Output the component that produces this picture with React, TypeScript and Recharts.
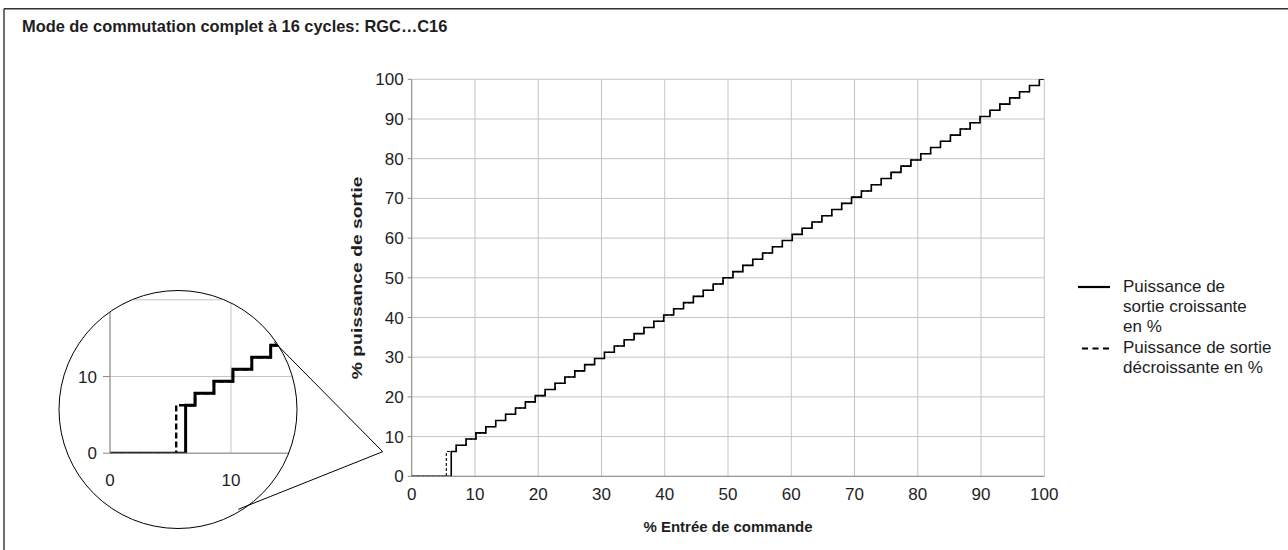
import React from 'react';
import { LineChart, Line, XAxis, YAxis, CartesianGrid } from 'recharts';

const titleText = 'Mode de commutation complet à 16 cycles: RGC…C16';
const xAxisTitle = '% Entrée de commande';
const yAxisTitle = '% puissance de sortie';

const xTicks = [0, 10, 20, 30, 40, 50, 60, 70, 80, 90, 100];
const yTicks = [0, 10, 20, 30, 40, 50, 60, 70, 80, 90, 100];
const insetXTicks = [0, 10];
const insetYTicks = [0, 10, 20];

// % input where each output level begins (increasing control input)
const increasingInput = [
  0, 6.25, 7.03, 8.59, 10.16, 11.72, 13.28, 14.84, 16.41, 17.97, 19.53, 21.09, 22.66,
  24.22, 25.78, 27.34, 28.91, 30.47, 32.03, 33.59, 35.16, 36.72, 38.28, 39.84, 41.41,
  42.97, 44.53, 46.09, 47.66, 49.22, 50.78, 52.34, 53.91, 55.47, 57.03, 58.59, 60.16,
  61.72, 63.28, 64.84, 66.41, 67.97, 69.53, 71.09, 72.66, 74.22, 75.78, 77.34, 78.91,
  80.47, 82.03, 83.59, 85.16, 86.72, 88.28, 89.84, 91.41, 92.97, 94.53, 96.09, 97.66,
  99.22, 100,
];

// % input where each output level begins (decreasing control input)
const decreasingInput = [
  0, 5.47, 7.03, 8.59, 10.16, 11.72, 13.28, 14.84, 16.41, 17.97, 19.53, 21.09, 22.66,
  24.22, 25.78, 27.34, 28.91, 30.47, 32.03, 33.59, 35.16, 36.72, 38.28, 39.84, 41.41,
  42.97, 44.53, 46.09, 47.66, 49.22, 50.78, 52.34, 53.91, 55.47, 57.03, 58.59, 60.16,
  61.72, 63.28, 64.84, 66.41, 67.97, 69.53, 71.09, 72.66, 74.22, 75.78, 77.34, 78.91,
  80.47, 82.03, 83.59, 85.16, 86.72, 88.28, 89.84, 91.41, 92.97, 94.53, 96.09, 97.66,
  99.22, 100,
];

// % output levels
const outputLevels = [
  0, 6.25, 7.81, 9.38, 10.94, 12.5, 14.06, 15.63, 17.19, 18.75, 20.31, 21.88, 23.44,
  25, 26.56, 28.13, 29.69, 31.25, 32.81, 34.38, 35.94, 37.5, 39.06, 40.63, 42.19,
  43.75, 45.31, 46.88, 48.44, 50, 51.56, 53.13, 54.69, 56.25, 57.81, 59.38, 60.94,
  62.5, 64.06, 65.63, 67.19, 68.75, 70.31, 71.88, 73.44, 75, 76.56, 78.13, 79.69,
  81.25, 82.81, 84.38, 85.94, 87.5, 89.06, 90.63, 92.19, 93.75, 95.31, 96.88, 98.44,
  100, 100,
];

const legendIncreasing = ['Puissance de', 'sortie croissante', 'en %'];
const legendDecreasing = ['Puissance de sortie', 'décroissante en %'];

const increasingData = increasingInput.map((x, i) => ({ x, y: outputLevels[i] }));
const decreasingData = decreasingInput.map((x, i) => ({ x, y: outputLevels[i] }));

const FONT = '"Liberation Sans", Arial, sans-serif';
const TEXT = '#1e1e1e';
const GRID = '#c4c4c4';
const AXIS = '#8a8a8a';

const LegendBox = () => (
  <div
    style={{
      position: 'absolute',
      left: 1078,
      top: 277,
      width: 210,
      fontFamily: FONT,
      fontSize: 17,
      color: TEXT,
      lineHeight: '20px',
    }}
  >
    <div style={{ position: 'relative', height: 61 }}>
      <svg width={45} height={20} style={{ position: 'absolute', left: 0, top: 0 }}>
        <line x1={0} y1={10} x2={32} y2={10} stroke="#000" strokeWidth={2.2} />
      </svg>
      <div style={{ marginLeft: 45 }}>
        {legendIncreasing.map((t) => (
          <div key={t} style={{ whiteSpace: 'nowrap' }}>{t}</div>
        ))}
      </div>
    </div>
    <div style={{ position: 'relative' }}>
      <svg width={45} height={20} style={{ position: 'absolute', left: 0, top: 0 }}>
        <line x1={4} y1={10.5} x2={32} y2={10.5} stroke="#000" strokeWidth={2.2} strokeDasharray="6 4.5" />
      </svg>
      <div style={{ marginLeft: 45 }}>
        {legendDecreasing.map((t) => (
          <div key={t} style={{ whiteSpace: 'nowrap' }}>{t}</div>
        ))}
      </div>
    </div>
  </div>
);

const cx = 178;
const cy = 409.5;
const r = 119;

export default function App() {
  return (
    <div style={{ position: 'absolute', left: 0, top: 0, width: 1288, height: 550, background: '#fff', fontFamily: FONT, overflow: 'hidden' }}>
      <LineChart
        width={1288}
        height={550}
        margin={{ top: 79.3, right: 243.7, bottom: 23.7, left: 351.7 }}
        style={{ position: 'absolute', left: 0, top: 0 }}
      >
        <CartesianGrid stroke={GRID} strokeWidth={1} />
        <XAxis
          type="number"
          dataKey="x"
          domain={[0, 100]}
          ticks={xTicks}
          interval={0}
          allowDataOverflow
          height={50}
          tickLine={false}
          tickSize={6}
          tickMargin={6}
          axisLine={{ stroke: AXIS }}
          tick={{ fill: TEXT, fontSize: 17 }}
          label={{
            content: (props: any) => {
              const vb = props.viewBox || { x: 411.7, width: 632.6, y: 476.3 };
              return (
                <text x={vb.x + vb.width / 2} y={532} textAnchor="middle" fontSize={15} fontWeight="bold" fill={TEXT}>
                  {xAxisTitle}
                </text>
              );
            },
          }}
        />
        <YAxis
          type="number"
          dataKey="y"
          domain={[0, 100]}
          ticks={yTicks}
          interval={0}
          allowDataOverflow
          width={60}
          tickSize={4}
          tickMargin={4}
          tickLine={{ stroke: AXIS }}
          axisLine={{ stroke: AXIS }}
          tick={{ fill: TEXT, fontSize: 17 }}
          label={{
            content: (props: any) => {
              const vb = props.viewBox || { y: 79.3, height: 397 };
              const my = vb.y + vb.height / 2;
              return (
                <text
                  transform={`translate(361.5, ${my}) rotate(-90) scale(1.38, 1)`}
                  textAnchor="middle"
                  fontSize={14}
                  fontWeight="bold"
                  fill={TEXT}
                >
                  {yAxisTitle}
                </text>
              );
            },
          }}
        />
        <Line
          data={decreasingData}
          dataKey="y"
          type="stepAfter"
          stroke="#000"
          strokeWidth={1.1}
          strokeDasharray="3 2"
          dot={false}
          activeDot={false}
          isAnimationActive={false}
          name="Puissance de sortie décroissante en %"
        />
        <Line
          data={increasingData}
          dataKey="y"
          type="stepAfter"
          stroke="#000"
          strokeWidth={1.6}
          dot={false}
          activeDot={false}
          isAnimationActive={false}
          name="Puissance de sortie croissante en %"
        />
      </LineChart>

      <LegendBox />

      <div
        style={{
          position: 'absolute',
          left: cx - r,
          top: cy - r,
          width: 2 * r,
          height: 2 * r,
          borderRadius: '50%',
          overflow: 'hidden',
          background: '#fff',
        }}
      >
        <LineChart
          width={300}
          height={2 * r}
          margin={{ top: 8.8, right: 7, bottom: 35.8, left: 6 }}
          style={{ position: 'absolute', left: 0, top: 0 }}
        >
          <CartesianGrid stroke={GRID} strokeWidth={1} />
          <XAxis
            type="number"
            dataKey="x"
            domain={[0, 20]}
            ticks={insetXTicks}
            interval={0}
            allowDataOverflow
            height={40}
            tickLine={false}
            tickSize={6}
            tickMargin={15}
            axisLine={{ stroke: AXIS }}
            tick={{ fill: TEXT, fontSize: 17 }}
          />
          <YAxis
            type="number"
            dataKey="y"
            domain={[0, 20]}
            ticks={insetYTicks}
            interval={0}
            allowDataOverflow
            width={45}
            tickSize={7}
            tickMargin={6}
            tickLine={{ stroke: AXIS }}
            axisLine={{ stroke: AXIS }}
            tick={{ fill: TEXT, fontSize: 17 }}
          />
          <Line
            data={decreasingData}
            dataKey="y"
            type="stepAfter"
            stroke="#000"
            strokeWidth={2.4}
            strokeDasharray="6 3"
            dot={false}
            activeDot={false}
            isAnimationActive={false}
          />
          <Line
            data={increasingData}
            dataKey="y"
            type="stepAfter"
            stroke="#000"
            strokeWidth={3}
            dot={false}
            activeDot={false}
            isAnimationActive={false}
          />
        </LineChart>
      </div>

      <svg width={1288} height={550} style={{ position: 'absolute', left: 0, top: 0, pointerEvents: 'none' }}>
        <line x1={4} y1={8.7} x2={1288} y2={8.7} stroke="#333" strokeWidth={1.4} />
        <line x1={4} y1={8.7} x2={4} y2={550} stroke="#333" strokeWidth={1.4} />
        <text x={22} y={32} fontSize={16.4} fontWeight="bold" fill={TEXT}>
          {titleText}
        </text>
        <circle cx={cx} cy={cy} r={r} fill="none" stroke="#000" strokeWidth={1} />
        <line x1={274} y1={341.7} x2={382.7} y2={451.7} stroke="#000" strokeWidth={1} />
        <line x1={238.3} y1={509.3} x2={382.7} y2={451.7} stroke="#000" strokeWidth={1} />
      </svg>
    </div>
  );
}
